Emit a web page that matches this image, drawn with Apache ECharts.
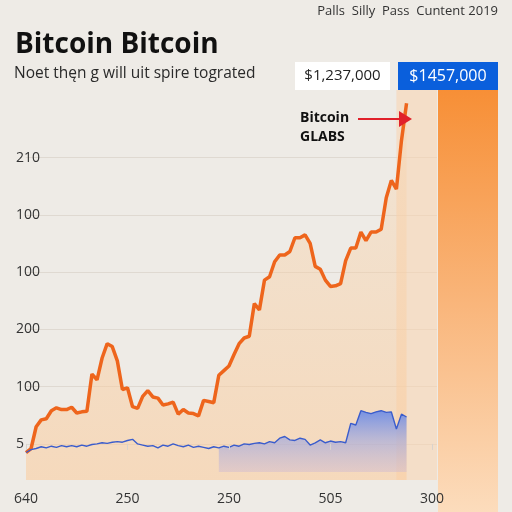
<!DOCTYPE html>
<html>
<head>
<meta charset="utf-8">
<script src="https://cdn.jsdelivr.net/npm/echarts@6/dist/echarts.min.js"></script>
<style>
  html, body { margin: 0; padding: 0; background: #eeebe6; }
  #chart { width: 512px; height: 512px; }
</style>
</head>
<body>
<div id="chart"></div>
<script>
'use strict';

// x axis: one category per sample, labels every 20th
const xLabels = ['640', '250', '250', '505', '300'];
const categories = [];
for (let i = 0; i < 82; i++) categories.push(String(i));

// y axis ticks (in label steps) and their printed text
const yTicks = [0, 1, 2, 3, 4, 5];
const yLabels = ['5', '100', '200', '100', '100', '210'];

const orangeValues = [
  -0.15, -0.08, 0.3, 0.42, 0.44, 0.58, 0.63, 0.6, 0.6, 0.64,
  0.54, 0.56, 0.57, 1.22, 1.12, 1.5, 1.75, 1.7, 1.45, 0.95,
  0.98, 0.65, 0.62, 0.83, 0.93, 0.82, 0.8, 0.68, 0.7, 0.73,
  0.52, 0.6, 0.54, 0.53, 0.49, 0.76, 0.74, 0.72, 1.2, 1.28,
  1.36, 1.56, 1.75, 1.85, 1.88, 2.45, 2.34, 2.86, 2.92, 3.18,
  3.3, 3.3, 3.36, 3.6, 3.6, 3.65, 3.5, 3.1, 3.05, 2.86,
  2.75, 2.76, 2.8, 3.2, 3.42, 3.42, 3.7, 3.55, 3.7, 3.7,
  3.75, 4.3, 4.6, 4.45, 5.3, 5.95
];

const blueValues = [
  -0.15, -0.1, -0.08, -0.05, -0.07, -0.04, -0.06, -0.03, -0.05, -0.03,
  -0.05, -0.02, -0.04, -0.01, 0.0, 0.02, 0.01, 0.03, 0.04, 0.03,
  0.06, 0.08, 0.0, -0.02, -0.04, -0.03, -0.07, -0.02, -0.04, 0.0,
  -0.03, -0.05, -0.02, -0.06, -0.04, -0.06, -0.08, -0.05, -0.07, -0.04,
  -0.06, -0.02, -0.04, 0.0, -0.01, 0.01, 0.02, 0.0, 0.04, 0.02,
  0.1, 0.13, 0.07, 0.06, 0.1, 0.08, -0.02, 0.02, 0.07, 0.02,
  0.05, 0.03, 0.04, 0.02, 0.36, 0.33, 0.58, 0.55, 0.53, 0.56,
  0.58, 0.55, 0.56, 0.26, 0.52, 0.47
];
const blueAreaStart = 38;

const sideBar = [6.8];

const blueArea = blueValues.map((v, i) => (i >= blueAreaStart ? v : null));

const chart = echarts.init(document.getElementById('chart'), null, { renderer: 'canvas' });

const option = {
  backgroundColor: '#eeebe6',
  animation: false,
  grid: [
    { left: 26, right: 75, top: 90, bottom: 32 },
    { left: 438, width: 60, top: 90, bottom: 0 }
  ],
  xAxis: [
    {
      type: 'category',
      gridIndex: 0,
      z: 10,
      data: categories,
      boundaryGap: false,
      axisLine: { show: false },
      axisTick: {
        show: true, interval: 19, length: 6,
        lineStyle: { color: '#d9d3cc' }
      },
      axisLabel: {
        interval: 19,
        margin: 12,
        color: '#333',
        fontSize: 14,
        fontFamily: 'Open Sans',
        formatter: (v, i) => xLabels[i / 20]
      },
      splitLine: { show: false }
    },
    {
      type: 'category', gridIndex: 1, data: ['a'],
      show: false
    }
  ],
  yAxis: [
    {
      type: 'value',
      gridIndex: 0,
      min: -0.63,
      max: 6.18,
      axisLine: { show: false },
      axisTick: { show: false, customValues: yTicks },
      axisLabel: {
        customValues: yTicks,
        align: 'left',
        margin: 10,
        color: '#333',
        fontSize: 14,
        fontFamily: 'Open Sans',
        formatter: v => yLabels[Math.round(v)]
      },
      splitLine: { show: true, lineStyle: { color: 'rgba(205,195,185,0.45)', width: 1 } }
    },
    {
      type: 'value', gridIndex: 1, min: 0, max: 6.8, show: false
    }
  ],
  series: [
    {
      type: 'line',
      name: 'Bitcoin',
      xAxisIndex: 0, yAxisIndex: 0,
      data: orangeValues,
      symbol: 'none',
      z: 3,
      lineStyle: { color: '#ee651c', width: 3.5 },
      areaStyle: {
        origin: 'start',
        color: new echarts.graphic.LinearGradient(0, 0, 0, 1, [
          { offset: 0, color: 'rgba(248,208,165,0.4)' },
          { offset: 1, color: 'rgba(251,203,155,0.8)' }
        ])
      },
      markArea: {
        silent: true,
        itemStyle: { color: 'rgba(249,212,175,0.55)' },
        data: [[{ xAxis: '73' }, { xAxis: '81' }]]
      }
    },
    {
      type: 'line',
      name: 'GLABS area',
      xAxisIndex: 0, yAxisIndex: 0,
      data: blueArea,
      symbol: 'none',
      z: 4,
      lineStyle: { width: 0 },
      areaStyle: {
        origin: -0.49,
        opacity: 1,
        color: new echarts.graphic.LinearGradient(0, 0, 0, 1, [
          { offset: 0, color: 'rgba(105,138,230,0.9)' },
          { offset: 0.5, color: 'rgba(155,165,225,0.6)' },
          { offset: 1, color: 'rgba(205,185,210,0.45)' }
        ])
      }
    },
    {
      type: 'line',
      name: 'GLABS',
      xAxisIndex: 0, yAxisIndex: 0,
      data: blueValues,
      symbol: 'none',
      z: 5,
      lineStyle: { color: '#3a5ccc', width: 1.4 }
    },
    {
      type: 'bar',
      xAxisIndex: 1, yAxisIndex: 1,
      data: sideBar,
      barWidth: '100%',
      z: 1,
      itemStyle: {
        color: new echarts.graphic.LinearGradient(0, 0, 0, 1, [
          { offset: 0, color: '#f78f36' },
          { offset: 0.5, color: '#f9b57a' },
          { offset: 1, color: '#fcdcbc' }
        ])
      }
    }
  ],
  graphic: [
    {
      type: 'text', left: 15, top: 31,
      style: { text: 'Bitcoin Bitcoin', font: 'bold 28px "Open Sans"', fill: '#111' }
    },
    {
      type: 'text', left: 14, top: 66,
      style: { text: 'Noet thęn g will uit spire tograted', font: '15.5px "Open Sans"', fill: '#2a2a2a' }
    },
    {
      type: 'text', right: 14, top: 5,
      style: { text: 'Palls  Silly  Pass  Cuntent 2019', font: '13px "Open Sans"', fill: '#333' }
    },
    {
      type: 'group', left: 295, top: 62,
      children: [
        { type: 'rect', shape: { x: 0, y: 0, width: 95, height: 28 }, style: { fill: '#ffffff' } },
        {
          type: 'text',
          style: { x: 47.5, y: 14, text: '$1,237,000', font: '15px "Open Sans"', fill: '#222', align: 'center', verticalAlign: 'middle' }
        }
      ]
    },
    {
      type: 'group', left: 398, top: 62,
      children: [
        { type: 'rect', shape: { x: 0, y: 0, width: 100, height: 28 }, style: { fill: '#0a5fdc' } },
        {
          type: 'text',
          style: { x: 50, y: 14, text: '$1457,000', font: '16px "Open Sans"', fill: '#fff', align: 'center', verticalAlign: 'middle' }
        }
      ]
    },
    {
      type: 'text', left: 300, top: 109, z: 10,
      style: { text: 'Bitcoin\nGLABS', font: 'bold 14px "Open Sans"', fill: '#111', align: 'center', lineHeight: 19, x: 25 }
    },
    {
      type: 'line', z: 10,
      shape: { x1: 358, y1: 119, x2: 402, y2: 119 },
      style: { stroke: '#e0202a', lineWidth: 2 }
    },
    {
      type: 'polygon', z: 10,
      shape: { points: [[399, 111], [412, 119], [399, 127]] },
      style: { fill: '#e0202a' }
    }
  ]
};

chart.setOption(option);
</script>
</body>
</html>
